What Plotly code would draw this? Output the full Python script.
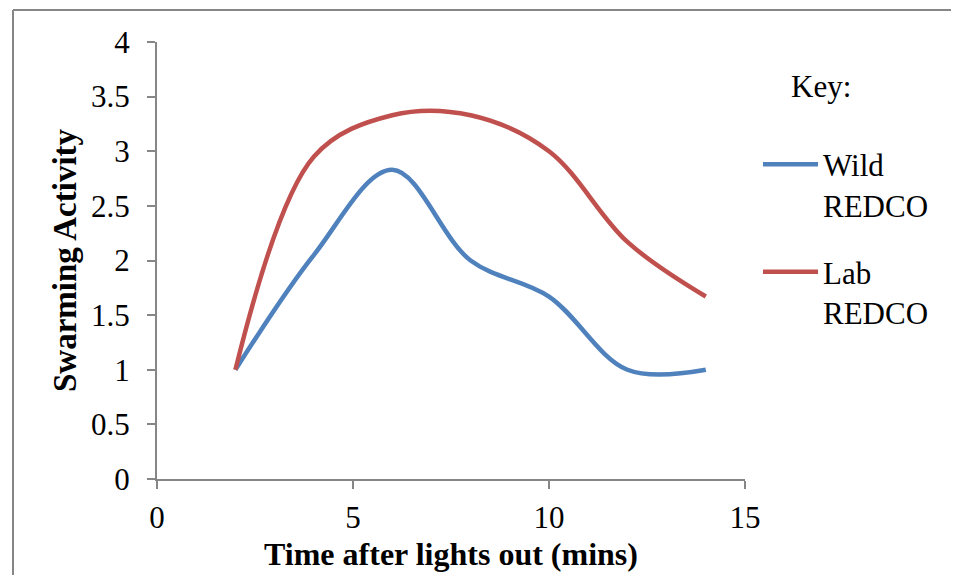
import plotly.graph_objects as go

time_mins = [2, 4, 6, 8, 10, 12, 14]
wild_redco = [1.0, 2.05, 2.83, 2.0, 1.67, 1.0, 1.0]
lab_redco = [1.0, 2.95, 3.33, 3.33, 3.0, 2.17, 1.67]
series_names = ["Wild<br>REDCO", "Lab<br>REDCO"]
x_ticks = [0, 5, 10, 15]
y_ticks = [0, 0.5, 1, 1.5, 2, 2.5, 3, 3.5, 4]
y_tick_labels = ["0", "0.5", "1", "1.5", "2", "2.5", "3", "3.5", "4"]

FONT = "Liberation Serif, Times New Roman, serif"
AXIS_GREY = "#868686"

fig = go.Figure()
fig.add_trace(go.Scatter(x=time_mins, y=wild_redco, name=series_names[0], mode="lines",
                         line=dict(color="#4F81BD", width=4.5, shape="spline", smoothing=1),
                         legendgroup="a"))
fig.add_trace(go.Scatter(x=time_mins, y=lab_redco, name=series_names[1], mode="lines",
                         line=dict(color="#C0504D", width=4.5, shape="spline", smoothing=1),
                         legendgroup="b"))

# page body has an 8px margin: figure coordinates = screen coordinates - 8
OFF = 8
W, H = 959 - 2 * OFF, 583 - 2 * OFF
L, T = 157 - OFF, 42 - OFF
pw, ph = 745 - 157, 479 - 42
R, B = W - L - pw, H - T - ph

def px_x(sx):
    return (sx - OFF - L) / pw

def px_y(sy):
    return (H - B - (sy - OFF)) / ph

fig.update_layout(
    width=W, height=H,
    margin=dict(l=L, r=R, t=T, b=B, autoexpand=False),
    paper_bgcolor="white", plot_bgcolor="white",
    font=dict(family=FONT, size=31, color="black"),
    showlegend=True,
    legend=dict(
        x=px_x(758), y=px_y(57), xanchor="left", yanchor="top",
        valign="top", font=dict(size=31, family=FONT),
        title=dict(text="&nbsp;&nbsp;&nbsp;&nbsp;Key:<br> ", side="top", font=dict(size=31, family=FONT)),
        tracegroupgap=24, itemwidth=55, bgcolor="rgba(0,0,0,0)",
    ),
    xaxis=dict(
        range=[0, 15], tickvals=x_ticks, ticktext=[str(v) for v in x_ticks],
        showline=True, linecolor=AXIS_GREY, linewidth=2, ticks="outside", tickcolor=AXIS_GREY,
        ticklen=8, tickwidth=2, showgrid=False, zeroline=False,
        tickfont=dict(size=31, family=FONT), ticklabelstandoff=2,
        title=dict(text="<b>Time after lights out (mins)</b>", font=dict(size=32, family=FONT), standoff=8),
    ),
    yaxis=dict(
        range=[0, 4], tickvals=y_ticks, ticktext=y_tick_labels,
        showline=True, linecolor=AXIS_GREY, linewidth=2, ticks="outside", tickcolor=AXIS_GREY,
        ticklen=8, tickwidth=2, showgrid=False, zeroline=False,
        tickfont=dict(size=31, family=FONT), ticklabelstandoff=11,
        title=dict(text="<b>Swarming Activity</b>", font=dict(size=33, family=FONT), standoff=4),
    ),
)

# outer chart border (left and top edges visible)
bx0 = px_x(13)
by1 = px_y(10)
fig.add_shape(type="line", xref="paper", yref="paper", x0=bx0, x1=bx0, y0=by1, y1=-B / ph - 0.05,
              line=dict(color=AXIS_GREY, width=2))
fig.add_shape(type="line", xref="paper", yref="paper", x0=bx0, x1=(W - L) / pw + 0.05, y0=by1, y1=by1,
              line=dict(color=AXIS_GREY, width=2))

fig.write_html("out.html")
